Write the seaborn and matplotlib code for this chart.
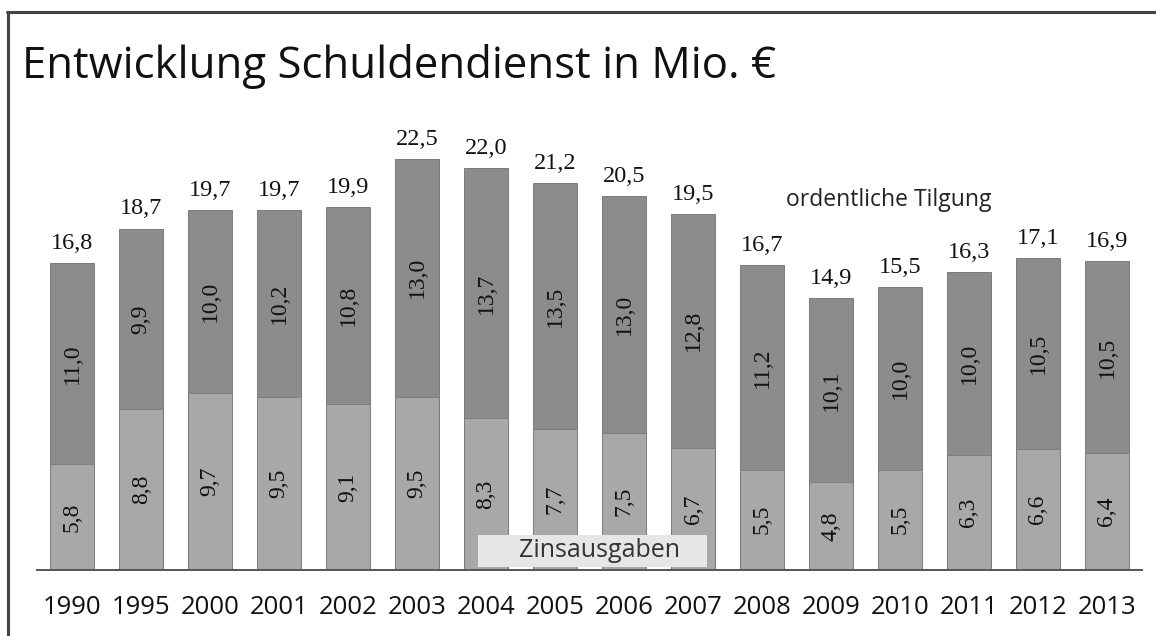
import matplotlib
matplotlib.use("Agg")
import matplotlib.pyplot as plt
from matplotlib.lines import Line2D
from matplotlib.patches import Rectangle
import numpy as np
import pandas as pd
import seaborn as sns

# data (Mio. EUR)
years = ['1990', '1995', '2000', '2001', '2002', '2003', '2004', '2005',
         '2006', '2007', '2008', '2009', '2010', '2011', '2012', '2013']
zinsen = [5.8, 8.8, 9.7, 9.5, 9.1, 9.5, 8.3, 7.7, 7.5, 6.7, 5.5, 4.8, 5.5, 6.3, 6.6, 6.4]
tilgung = [11.0, 9.9, 10.0, 10.2, 10.8, 13.0, 13.7, 13.5, 13.0, 12.8, 11.2, 10.1, 10.0, 10.0, 10.5, 10.5]
gesamt = [16.8, 18.7, 19.7, 19.7, 19.9, 22.5, 22.0, 21.2, 20.5, 19.5, 16.7, 14.9, 15.5, 16.3, 17.1, 16.9]

df = pd.DataFrame({'Jahr': years, 'Zinsausgaben': zinsen,
                   'Tilgung': tilgung, 'Gesamt': gesamt})

def fmt(v):
    return ('%.1f' % v).replace('.', ',')

sns.set_style('white')
plt.rcParams['font.family'] = ['Open Sans', 'DejaVu Sans']

fig = plt.figure(figsize=(11.56, 6.36), dpi=100)
ax = fig.add_axes([0.032, 0.1038, 0.956, 0.689])

dark = '#8c8c8c'
light = '#a8a8a8'
sns.barplot(data=df, x='Jahr', y='Gesamt', color=dark, width=0.64,
            saturation=1, edgecolor='#6e6e6e', linewidth=0.6, ax=ax)
sns.barplot(data=df, x='Jahr', y='Zinsausgaben', color=light, width=0.64,
            saturation=1, edgecolor='#7a7a7a', linewidth=0.6, ax=ax)

serif = ['Liberation Serif', 'DejaVu Serif']
for i in range(len(years)):
    ax.text(i, gesamt[i] + 0.5, fmt(gesamt[i]), ha='center', va='bottom',
            fontsize=17.5, family=serif, color='#111111')
    ax.text(i, zinsen[i] + tilgung[i] / 2, fmt(tilgung[i]), ha='center', va='center',
            rotation=90, fontsize=17, family=serif, color='#111111')
    ax.text(i, zinsen[i] / 2, fmt(zinsen[i]), ha='center', va='center',
            rotation=90, fontsize=17, family=serif, color='#111111')

# series captions
ax.text(11.84, 20.25, 'ordentliche Tilgung', ha='center', va='center',
        fontsize=16.5, color='#222222')
zx, zy = 7.54, 1.05
ax.add_patch(Rectangle((zx - 1.66, zy - 0.9), 3.32, 1.78, facecolor='#e6e6e6',
                       edgecolor='none', zorder=4))
ax.text(zx + 0.1, zy, 'Zinsausgaben', ha='center', va='center', fontsize=18,
        color='#333333', zorder=5)

ax.set_xlim(-0.51, 15.51)
ax.set_ylim(0, 24)
ax.set_xlabel('')
ax.set_ylabel('')
ax.set_yticks([])
ax.tick_params(axis='x', length=0, pad=18, labelsize=18.5, colors='#111111')
for s in ['top', 'right', 'left']:
    ax.spines[s].set_visible(False)
ax.spines['bottom'].set_color('#555555')
ax.spines['bottom'].set_linewidth(1.4)
ax.spines['bottom'].set_zorder(6)

fig.text(0.019, 0.895, 'Entwicklung Schuldendienst in Mio. \u20ac', fontsize=31.5,
         ha='left', va='center', color='#111111')

# frame of the scanned page
fig.add_artist(Line2D([0.006, 1.0], [0.981, 0.981], color='#444444', lw=2.2))
fig.add_artist(Line2D([0.0072, 0.0072], [0.0, 0.981], color='#444444', lw=2.2))

fig.savefig('out.png', dpi=100)
